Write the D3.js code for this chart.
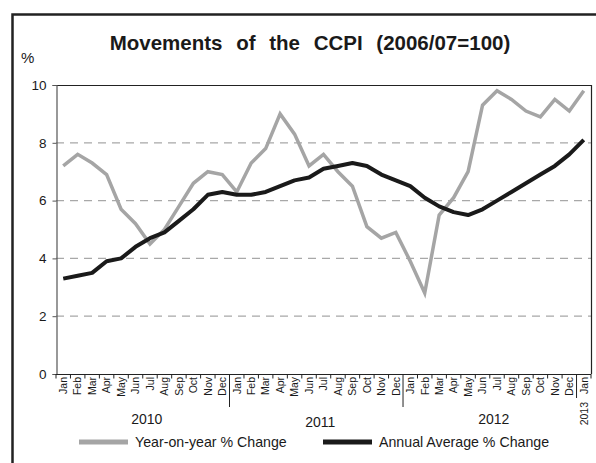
<!DOCTYPE html>
<html>
<head>
<meta charset="utf-8">
<script src="https://cdn.jsdelivr.net/npm/d3@7/dist/d3.min.js"></script>
<style>
  body { margin: 0; background: #fff; }
  text { font-family: "Liberation Sans", Arial, sans-serif; fill: #1a1a1a; }
</style>
</head>
<body>
<div id="chart"></div>
<script>
var WIDTH = 596
var HEIGHT = 463

// data
var months = ['Jan', 'Feb', 'Mar', 'Apr', 'May', 'Jun', 'Jul', 'Aug', 'Sep', 'Oct', 'Nov', 'Dec',
              'Jan', 'Feb', 'Mar', 'Apr', 'May', 'Jun', 'Jul', 'Aug', 'Sep', 'Oct', 'Nov', 'Dec',
              'Jan', 'Feb', 'Mar', 'Apr', 'May', 'Jun', 'Jul', 'Aug', 'Sep', 'Oct', 'Nov', 'Dec',
              'Jan']
var years = ['2010', '2011', '2012']
var yoy = [7.2, 7.6, 7.3, 6.9, 5.7, 5.2, 4.5, 5.0, 5.8, 6.6, 7.0, 6.9,
           6.3, 7.3, 7.8, 9.0, 8.3, 7.2, 7.6, 7.0, 6.5, 5.1, 4.7, 4.9,
           3.9, 2.8, 5.5, 6.1, 7.0, 9.3, 9.8, 9.5, 9.1, 8.9, 9.5, 9.1,
           9.8]
var annualAvg = [3.3, 3.4, 3.5, 3.9, 4.0, 4.4, 4.7, 4.9, 5.3, 5.7, 6.2, 6.3,
                 6.2, 6.2, 6.3, 6.5, 6.7, 6.8, 7.1, 7.2, 7.3, 7.2, 6.9, 6.7,
                 6.5, 6.1, 5.8, 5.6, 5.5, 5.7, 6.0, 6.3, 6.6, 6.9, 7.2, 7.6,
                 8.1]
var yTicks = [0, 2, 4, 6, 8, 10]
var seriesNames = ['Year-on-year % Change', 'Annual Average % Change']

var LEFT = 56
var RIGHT = 591
var TOP = 85
var BOTTOM = 374

var svg = d3.select('#chart').append('svg')
  .attr('width', WIDTH)
  .attr('height', HEIGHT)

// outer frame
svg.append('rect')
  .attr('x', 12.5).attr('y', 14.5)
  .attr('width', 620).attr('height', 480)
  .attr('fill', 'none')
  .attr('stroke', '#222')
  .attr('stroke-width', 2.5)

svg.append('text')
  .attr('x', 310).attr('y', 50)
  .attr('text-anchor', 'middle')
  .attr('font-size', 20.5)
  .attr('font-weight', 'bold')
  .attr('word-spacing', 8)
  .text('Movements of the CCPI (2006/07=100)')

svg.append('text')
  .attr('x', 21).attr('y', 63)
  .attr('font-size', 15)
  .text('%')

var idx = d3.range(months.length)
var x = d3.scaleBand().domain(idx).range([LEFT, RIGHT])
var bw = x.bandwidth()
var cx = function (i) { return x(i) + bw / 2 }

var y = d3.scaleLinear().domain([0, 10]).range([BOTTOM, TOP])

// grid
svg.append('g').selectAll('line')
  .data(yTicks.filter(function (t) { return t > 0 && t < 10 }))
  .enter().append('line')
  .attr('x1', LEFT).attr('x2', RIGHT)
  .attr('y1', function (d) { return y(d) }).attr('y2', function (d) { return y(d) })
  .attr('stroke', '#a8a8a8')
  .attr('stroke-width', 1.2)
  .attr('stroke-dasharray', '8,6')

// frame top/right
svg.append('path')
  .attr('d', 'M' + LEFT + ',' + (TOP + 0.5) + 'H' + (RIGHT + 0.5) + 'V' + BOTTOM)
  .attr('fill', 'none')
  .attr('stroke', '#222')
  .attr('stroke-width', 1.2)

// y axis
var yAxis = svg.append('g')
  .attr('transform', 'translate(' + (LEFT + 0.5) + ',0)')
  .call(d3.axisLeft(y).tickValues(yTicks).tickSize(4).tickPadding(6).tickFormat(d3.format('d')))
yAxis.select('.domain').attr('stroke', '#555').attr('stroke-width', 1.2)
yAxis.selectAll('.tick line').attr('stroke', '#555')
yAxis.selectAll('text')
  .attr('font-size', 13.5)
  .attr('font-family', '"Liberation Sans", Arial, sans-serif')
  .attr('fill', '#1a1a1a')

// x axis
svg.append('line')
  .attr('x1', LEFT).attr('x2', RIGHT)
  .attr('y1', BOTTOM + 0.5).attr('y2', BOTTOM + 0.5)
  .attr('stroke', '#222').attr('stroke-width', 1.2)

var bounds = d3.range(months.length + 1)
svg.append('g').selectAll('line')
  .data(bounds)
  .enter().append('line')
  .attr('x1', function (d) { return LEFT + d * bw }).attr('x2', function (d) { return LEFT + d * bw })
  .attr('y1', BOTTOM)
  .attr('y2', function (d) {
    if (d === 12 || d === 24) return 407
    if (d === 36) return 398
    return BOTTOM + 4.5
  })
  .attr('stroke', '#222').attr('stroke-width', 1)

svg.append('g').selectAll('text')
  .data(months)
  .enter().append('text')
  .attr('transform', function (d, i) { return 'translate(' + (cx(i) + 3.8) + ',377) rotate(-90)' })
  .attr('text-anchor', 'end')
  .attr('font-size', 10.5)
  .text(function (d) { return d })

svg.append('g').selectAll('text')
  .data(years)
  .enter().append('text')
  .attr('x', function (d, i) { return (x(i * 12) + x(i * 12 + 11) + bw) / 2 + 4 })
  .attr('y', function (d, i) { return i === 1 ? 427 : 424 })
  .attr('text-anchor', 'middle')
  .attr('font-size', 14)
  .text(function (d) { return d })

svg.append('text')
  .attr('transform', 'translate(' + (cx(36) + 3.8) + ',402) rotate(-90)')
  .attr('text-anchor', 'end')
  .attr('font-size', 10.5)
  .text('2013')

// lines
var line = function (vals) {
  return d3.line()
    .x(function (d, i) { return cx(i) })
    .y(function (d) { return y(d) })(vals)
}

svg.append('path')
  .attr('d', line(yoy))
  .attr('fill', 'none')
  .attr('stroke', '#a5a5a5')
  .attr('stroke-width', 3.5)
  .attr('stroke-linejoin', 'miter')

svg.append('path')
  .attr('d', line(annualAvg))
  .attr('fill', 'none')
  .attr('stroke', '#1a1a1a')
  .attr('stroke-width', 4)
  .attr('stroke-linejoin', 'round')

// legend
var legend = [
  {name: seriesNames[0], color: '#a5a5a5', x0: 79},
  {name: seriesNames[1], color: '#1a1a1a', x0: 323}
]
var lg = svg.append('g').selectAll('g')
  .data(legend)
  .enter().append('g')
lg.append('rect')
  .attr('x', function (d) { return d.x0 }).attr('y', 439.5)
  .attr('width', 49).attr('height', 5)
  .attr('fill', function (d) { return d.color })
lg.append('text')
  .attr('x', function (d) { return d.x0 + 56 }).attr('y', 447)
  .attr('font-size', 14.2)
  .text(function (d) { return d.name })
</script>
</body>
</html>
